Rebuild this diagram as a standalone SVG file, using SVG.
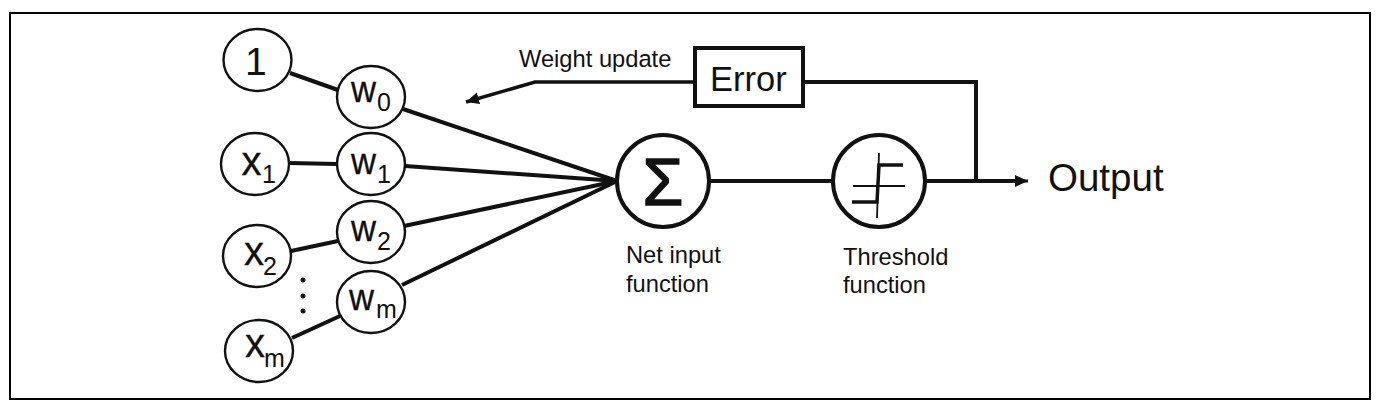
<svg xmlns="http://www.w3.org/2000/svg" width="1378" height="416" viewBox="0 0 1378 416">
<style>
text{font-family:"Liberation Sans",Arial,sans-serif;fill:#111}
.n{fill:#fff;stroke:#111;stroke-width:2.400}
.b{fill:#fff;stroke:#111;stroke-width:4}
.c{fill:none;stroke:#111;stroke-width:4}
.l{font-size:23.700px}
.w{font-size:36px;stroke:#111;stroke-width:.3}
.x{font-size:40px;stroke:#111;stroke-width:.3}
.s{font-size:25px}
</style>
<defs>
<marker id="a" markerUnits="userSpaceOnUse" markerWidth="14" markerHeight="14" refX="13" refY="6" orient="auto"><path d="M0 0L13 6L0 12z" fill="#111"/></marker>
</defs>
<rect id="frame" x="10" y="13" width="1360" height="386" fill="#fff" stroke="#000" stroke-width="2"/>
<g id="connectors">
<path class="c" d="M290 73L338 90"/>
<path class="c" d="M289 163L337 164"/>
<path class="c" d="M291 251L338 241"/>
<path class="c" d="M292 338L340 316"/>
<path class="c" d="M403 109L617 181"/>
<path class="c" d="M405 166L617 181"/>
<path class="c" d="M404 226L617 181"/>
<path class="c" d="M402 285L617 181"/>
<path class="c" d="M709 181H833"/>
<path class="c" d="M925 181H1016"/>
<path d="M1010 181H1028" stroke="#111" stroke-width="3" marker-end="url(#a)"/>
<path class="c" d="M804 82H976V181"/>
<path d="M695 82H535L466 102" fill="none" stroke="#111" stroke-width="3.500" marker-end="url(#a)"/>
</g>
<g id="node-1"><ellipse class="n" cx="257.500" cy="60" rx="34" ry="31"/><text x="245" y="75" style="font-size:39px">1</text></g>
<g id="node-x1"><ellipse class="n" cx="255" cy="164" rx="34" ry="31"/><text x="241.500" y="175" class="x">x</text><text x="262" y="183" class="s">1</text></g>
<g id="node-x2"><ellipse class="n" cx="257" cy="256" rx="34" ry="31"/><text x="244" y="265" class="x">x</text><text x="263" y="275" class="s">2</text></g>
<g id="node-xm"><ellipse class="n" cx="259" cy="351" rx="34" ry="31"/><text x="245" y="357" class="x">x</text><text x="264" y="367" class="s">m</text></g>
<g id="node-w0"><ellipse class="n" cx="371" cy="97" rx="34" ry="31"/><text x="351" y="102" class="w" textLength="25" lengthAdjust="spacingAndGlyphs">w</text><text x="377" y="111" class="s">0</text></g>
<g id="node-w1"><ellipse class="n" cx="371" cy="164" rx="34" ry="31"/><text x="351" y="174" class="w" textLength="25" lengthAdjust="spacingAndGlyphs">w</text><text x="377" y="183" class="s">1</text></g>
<g id="node-w2"><ellipse class="n" cx="371" cy="232" rx="34" ry="31"/><text x="351" y="241" class="w" textLength="25" lengthAdjust="spacingAndGlyphs">w</text><text x="377" y="250" class="s">2</text></g>
<g id="node-wm"><ellipse class="n" cx="371" cy="302" rx="34" ry="31"/><text x="349" y="310" class="w" textLength="25" lengthAdjust="spacingAndGlyphs">w</text><text x="376" y="318" class="s">m</text></g>
<g id="dots" fill="#111"><circle cx="303" cy="280" r="2.500"/><circle cx="303" cy="296" r="2.500"/><circle cx="303" cy="311" r="2.500"/></g>
<g id="node-sum"><circle class="b" cx="663" cy="181" r="46"/>
<text x="663" y="205" text-anchor="middle" style="font-size:66px;stroke:#111;stroke-width:1.500">Σ</text>
<text x="626" y="263" class="l">Net input</text><text x="626" y="292" class="l">function</text></g>
<g id="node-threshold"><circle class="b" cx="879" cy="181" r="46"/>
<path d="M853 186H905M879 153L877 218" fill="none" stroke="#111" stroke-width="1.800"/>
<path d="M852 202H877L879 165H903" fill="none" stroke="#111" stroke-width="3.500"/>
<text x="843" y="265" class="l">Threshold</text><text x="843" y="293" class="l">function</text></g>
<g id="node-error"><rect class="b" x="695" y="48" width="108" height="58"/><text x="710" y="91" style="font-size:34.500px">Error</text></g>
<text id="label-weight" x="519" y="67" class="l">Weight update</text>
<text id="label-output" x="1048" y="191" style="font-size:38.500px">Output</text>
</svg>
